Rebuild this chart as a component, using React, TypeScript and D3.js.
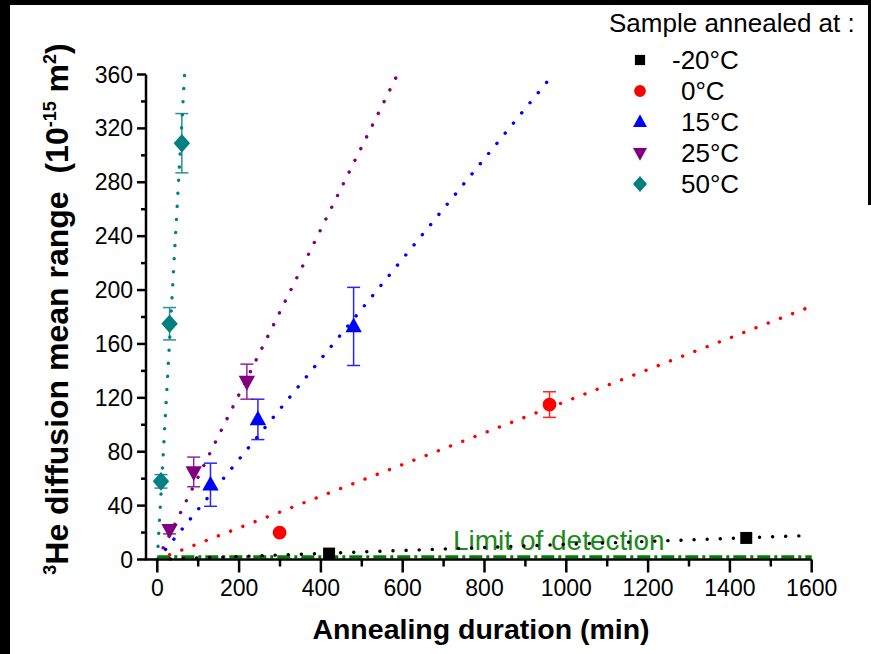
import React from "react";
import * as d3 from "d3";

const seriesNames = ["-20°C", "0°C", "15°C", "25°C", "50°C"];
const seriesColors = ["#000000", "#ff0000", "#0000ff", "#800080", "#008080"];
const seriesShapes = ["square", "circle", "triangle", "triangleDown", "diamond"];

const durM20 = [420, 1440];
const valM20 = [4.4, 16];
const errM20 = [0, 0];

const dur0 = [299, 959];
const val0 = [20, 115];
const err0 = [0, 9.5];

const dur15 = [130, 246, 480];
const val15 = [55.5, 104, 173];
const err15 = [16, 15, 29];

const dur25 = [30, 89, 219];
const val25 = [22, 65, 132];
const err25 = [3, 11, 13];

const dur50 = [9, 30, 60];
const val50 = [58, 175, 309];
const err50 = [5, 12, 22];

const fitSlopes = [0.0112, 0.1175, 0.372, 0.613, 5.4];
const limitOfDetection = 2;

const xTicksMajor = [0, 200, 400, 600, 800, 1000, 1200, 1400, 1600];
const yTicksMajor = [0, 40, 80, 120, 160, 200, 240, 280, 320, 360];

const allDur = [durM20, dur0, dur15, dur25, dur50];
const allVal = [valM20, val0, val15, val25, val50];
const allErr = [errM20, err0, err15, err25, err50];

const W = 871;
const H = 654;
const FONT = "'Liberation Sans', Arial, sans-serif";

const x = d3.scaleLinear().domain([0, 1600]).range([157.3, 811.7]);
const y = d3.scaleLinear().domain([0, 360]).range([559.5, 74.5]);
const xAxisLeft = 146;

function markerPath(shape: string): string {
  switch (shape) {
    case "square":
      return d3.symbol(d3.symbolSquare, 144)()!;
    case "circle":
      return d3.symbol(d3.symbolCircle, 150)()!;
    case "triangle":
      return "M0,-9L8.2,5.8L-8.2,5.8Z";
    case "triangleDown":
      return "M0,9L8.2,-5.8L-8.2,-5.8Z";
    case "diamond":
      return "M0,-9.3L8.2,0L0,9.3L-8.2,0Z";
  }
  return "";
}

export default function App() {
  const line = d3
    .line<[number, number]>()
    .x((d) => x(d[0]))
    .y((d) => y(d[1]));

  const xMinor = d3.range(100, 1600, 200);
  const yMinor = d3.range(20, 360, 40);

  return (
    <svg
      width={W}
      height={H}
      style={{ position: "absolute", left: 0, top: 0, background: "#fff" }}
      fontFamily={FONT}
    >
      <rect x={0} y={0} width={W} height={H} fill="#fff" />
      <rect x={0} y={0} width={W} height={5} fill="#000" />
      <rect x={0} y={0} width={10} height={H} fill="#000" />
      <rect x={W - 3} y={0} width={3} height={205} fill="#000" />

      {/* limit of detection */}
      <path
        d={line([
          [0, limitOfDetection],
          [1600, limitOfDetection],
        ])!}
        stroke="#008000"
        strokeWidth={3.2}
        strokeDasharray="13 4 3 4"
        fill="none"
      />
      <text x={453} y={550} fontSize={28} fill="#1a8a1a">
        Limit of detection
      </text>

      {/* fit lines */}
      {fitSlopes.map((s, i) => {
        const xEnd = Math.min(1600, 360 / s);
        return (
          <path
            key={"fit" + i}
            d={line([
              [0, 0],
              [xEnd, s * xEnd],
            ])!}
            stroke={seriesColors[i]}
            strokeWidth={3.4}
            strokeDasharray="0.1 13"
            strokeLinecap="round"
            fill="none"
          />
        );
      })}

      {/* error bars and markers */}
      {allDur.map((durs, i) =>
        durs.map((d, j) => {
          const v = allVal[i][j];
          const e = allErr[i][j];
          const cx = x(d);
          return (
            <g key={`pt${i}-${j}`}>
              {e > 0 && (
                <g stroke={seriesColors[i]} strokeWidth={1.5} opacity={0.85}>
                  <line x1={cx} x2={cx} y1={y(v - e)} y2={y(v + e)} />
                  <line x1={cx - 6.5} x2={cx + 6.5} y1={y(v - e)} y2={y(v - e)} />
                  <line x1={cx - 6.5} x2={cx + 6.5} y1={y(v + e)} y2={y(v + e)} />
                </g>
              )}
              <path
                d={markerPath(seriesShapes[i])}
                transform={`translate(${cx},${y(v)})`}
                fill={seriesColors[i]}
              />
            </g>
          );
        })
      )}

      {/* axes */}
      <g stroke="#000" strokeWidth={2.5} fill="none">
        <path d={`M${xAxisLeft},${y(360)}V${y(0)}H${x(1600)}`} />
        {xTicksMajor.map((t) => (
          <line key={"xt" + t} x1={x(t)} x2={x(t)} y1={y(0)} y2={y(0) + 13} />
        ))}
        {xMinor.map((t) => (
          <line key={"xm" + t} x1={x(t)} x2={x(t)} y1={y(0)} y2={y(0) + 7} />
        ))}
        {yTicksMajor.map((t) => (
          <line key={"yt" + t} x1={xAxisLeft} x2={xAxisLeft - 9} y1={y(t)} y2={y(t)} />
        ))}
        {yMinor.map((t) => (
          <line key={"ym" + t} x1={xAxisLeft} x2={xAxisLeft - 5} y1={y(t)} y2={y(t)} />
        ))}
      </g>
      {xTicksMajor.map((t) => (
        <text key={"xl" + t} x={x(t)} y={596} fontSize={23} textAnchor="middle" fill="#000">
          {t}
        </text>
      ))}
      {yTicksMajor.map((t) => (
        <text
          key={"yl" + t}
          x={133}
          y={y(t) + 8}
          fontSize={23}
          textAnchor="end"
          fill="#000"
        >
          {t}
        </text>
      ))}

      {/* axis titles */}
      <text x={481} y={639} fontSize={28.5} fontWeight="bold" textAnchor="middle" fill="#000">
        Annealing duration (min)
      </text>
      <text
        transform="translate(68,309) rotate(-90)"
        fontSize={32}
        fontWeight="bold"
        textAnchor="middle"
        fill="#000"
        style={{ whiteSpace: "pre" }}
      >
        <tspan fontSize={18} dy={-12}>3</tspan>
        <tspan dy={12}>{"He diffusion mean range  (10"}</tspan>
        <tspan fontSize={18} dy={-12}>-15</tspan>
        <tspan dy={12}>{" m"}</tspan>
        <tspan fontSize={18} dy={-12}>2</tspan>
        <tspan dy={12}>)</tspan>
      </text>

      {/* legend */}
      <text x={609} y={32} fontSize={26} fill="#000">
        Sample annealed at :
      </text>
      {seriesNames.map((n, i) => {
        const ly = 60 + i * 31;
        return (
          <g key={"lg" + i}>
            <path
              d={markerPath(seriesShapes[i])}
              transform={`translate(640,${ly}) scale(0.85)`}
              fill={seriesColors[i]}
            />
            <text x={i === 0 ? 672 : 681} y={ly + 9} fontSize={26} fill="#000">
              {n}
            </text>
          </g>
        );
      })}
    </svg>
  );
}
